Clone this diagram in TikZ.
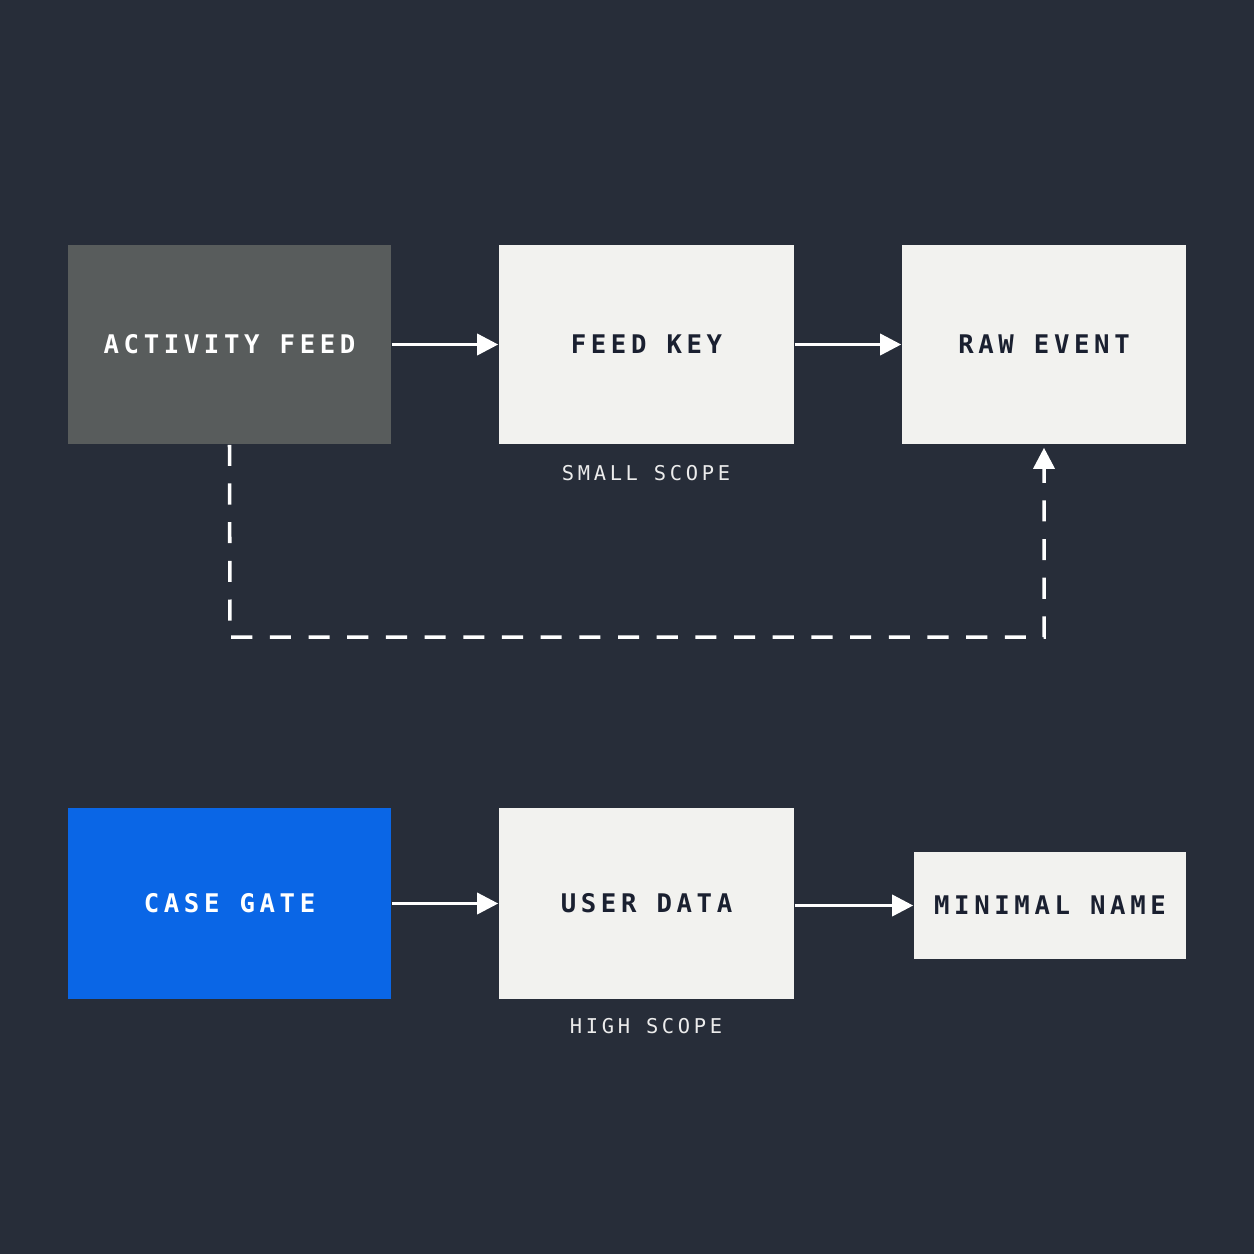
\documentclass[tikz,border=0pt]{standalone}
\usepackage{fontspec}
\setmonofont[LetterSpace=18]{DejaVu Sans Mono}
\usetikzlibrary{positioning, calc, arrows.meta}

\definecolor{bgnavy}{HTML}{272D39}
\definecolor{boxwhite}{HTML}{F2F2EF}
\definecolor{boxgray}{HTML}{585C5C}
\definecolor{boxblue}{HTML}{0A66E6}
\definecolor{inkdark}{HTML}{1A2030}

\tikzset{
  block/.style={draw=none, minimum width=#1, inner sep=0pt, font=\ttfamily\bfseries\fontsize{7.3}{9}\selectfont},
  lightblock/.style={block=#1, fill=boxwhite, text=inkdark},
  flow/.style={-{Triangle[length=6pt,width=6pt]}, white, line width=1pt},
  note/.style={font=\ttfamily\fontsize{5.8}{7}\selectfont, text=white!85!gray}
}

\begin{document}
\begin{tikzpicture}[x=0.01cm, y=-0.01cm]
        % background
        \fill[bgnavy] (0,0) rectangle (1254,1254);
        \useasboundingbox (0,0) rectangle (1254,1254);

        % top row
        \node[block=3.23cm, minimum height=1.99cm, fill=boxgray, text=white] (feed) at (229.5,344.5) {ACTIVITY FEED};
        \node[lightblock=2.95cm, minimum height=1.99cm] (key) at (646.5,344.5) {FEED KEY};
        \node[lightblock=2.84cm, minimum height=1.99cm] (raw) at (1044,344.5) {RAW EVENT};
        \node[note] (small) at (646,473) {SMALL SCOPE};

        % bottom row
        \node[block=3.23cm, minimum height=1.91cm, fill=boxblue, text=white] (gate) at (229.5,903.5) {CASE GATE};
        \node[lightblock=2.95cm, minimum height=1.91cm] (user) at (646.5,903.5) {USER DATA};
        \node[lightblock=2.72cm, minimum height=1.07cm] (name) at (1050,905.5) {MINIMAL NAME};
        \node[note] (high) at (646,1026) {HIGH SCOPE};

        % connectors
        \draw[flow] (feed) -- (key);
        \draw[flow] (key) -- (raw);
        \draw[flow] (gate.east |- user.west) -- (user.west);
        \draw[flow] (user.east |- name.west) -- (name.west);

        \coordinate (bend) at (230,637);
        \draw[flow, dash pattern=on 6pt off 5pt] (feed.south) -- (bend) -| ($(raw.south)+(0,3)$);
    \end{tikzpicture}
\end{document}
